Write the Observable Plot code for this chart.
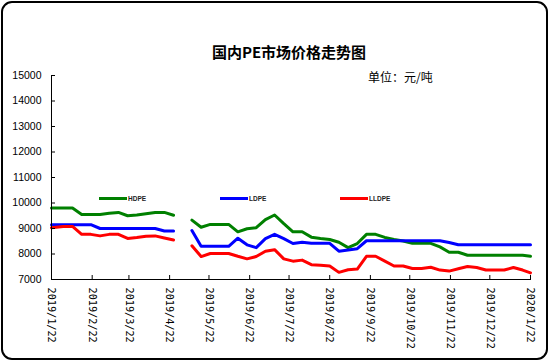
<!DOCTYPE html>
<html>
<head>
<meta charset="utf-8">
<script src="https://cdn.jsdelivr.net/npm/d3@7"></script>
<script src="https://cdn.jsdelivr.net/npm/@observablehq/plot@0.6"></script>
<style>
  html, body { margin: 0; padding: 0; background: #fff; }
  #wrap { position: relative; width: 550px; height: 364px; overflow: hidden; background: #fff; font-family: "Liberation Sans", Arial, sans-serif; }
  #border { position: absolute; left: 1px; top: 1px; width: 547px; height: 359px; box-sizing: border-box; border: 2px solid #000; border-radius: 11px; pointer-events: none; }
  #title { position: absolute; left: 0; width: 578px; top: 42px; text-align: center; font-family: "Noto Sans CJK SC", sans-serif; font-weight: bold; font-size: 15px; line-height: 20px; color: #000; }
  #unit { position: absolute; left: 368px; top: 69px; font-family: "Noto Sans CJK SC", sans-serif; font-size: 12px; line-height: 16px; color: #000; }
  #chart { position: absolute; left: 0; top: 0; }
  .leg { position: absolute; height: 3px; width: 28px; }
  .legt { position: absolute; font-size: 6.5px; font-weight: bold; line-height: 8px; color: #222; }
  .xlab text { font-family: "DejaVu Sans Mono", monospace; font-size: 10.2px; }
</style>
</head>
<body>
<div id="wrap">
  <div id="chart"></div>
  <div id="title">国内PE市场价格走势图</div>
  <div id="unit">单位：元/吨</div>
  <div id="legend"></div>
  <div id="border"></div>
</div>
<script>
// ---- data ----
const dates = [
  "2019-01-22","2019-01-31","2019-02-07","2019-02-14","2019-02-21","2019-02-28","2019-03-07","2019-03-14",
  "2019-03-21","2019-03-28","2019-04-04","2019-04-11","2019-04-18","2019-04-25","2019-05-02","2019-05-09",
  "2019-05-16","2019-05-23","2019-05-30","2019-06-06","2019-06-13","2019-06-20","2019-06-27","2019-07-04",
  "2019-07-11","2019-07-18","2019-07-25","2019-08-01","2019-08-08","2019-08-15","2019-08-22","2019-08-29",
  "2019-09-05","2019-09-12","2019-09-19","2019-09-26","2019-10-03","2019-10-10","2019-10-17","2019-10-24",
  "2019-10-31","2019-11-07","2019-11-14","2019-11-21","2019-11-28","2019-12-05","2019-12-12","2019-12-19",
  "2019-12-26","2020-01-02","2020-01-09","2020-01-16","2020-01-22"
];
const hdpe = [
  9800,9800,9800,9550,9550,9550,9600,9630,9500,9530,9580,9630,9630,9520,null,9330,
  9050,9160,9160,9160,8870,8990,9030,9350,9530,9190,8870,8870,8660,8610,8570,8460,
  8250,8410,8770,8770,8650,8570,8510,8420,8420,8420,8280,8070,8070,7950,7950,7950,
  7950,7950,7950,7950,7910
];
const ldpe = [
  9150,9150,9150,9150,9150,9000,9000,9000,9000,9000,9000,9000,8900,8900,null,8920,
  8300,8300,8300,8300,8620,8360,8250,8600,8770,8600,8410,8460,8420,8420,8420,8110,
  8160,8210,8520,8520,8520,8520,8520,8520,8520,8520,8520,8450,8360,8360,8360,8360,
  8360,8360,8360,8360,8360
];
const lldpe = [
  9030,9080,9080,8770,8770,8710,8770,8770,8610,8650,8700,8710,8630,8550,null,8320,
  7900,8020,8020,8020,7910,7810,7900,8110,8170,7810,7720,7760,7580,7560,7530,7280,
  7380,7410,7910,7910,7720,7530,7530,7430,7430,7480,7370,7330,7420,7510,7470,7370,
  7370,7370,7470,7370,7260
];
const seriesNames = ["HDPE", "LDPE", "LLDPE"];
const seriesColors = ["#008000", "#0000ff", "#ff0000"];
const yTicks = [7000, 8000, 9000, 10000, 11000, 12000, 13000, 14000, 15000];
const xTickDates = [
  "2019-01-22","2019-02-22","2019-03-22","2019-04-22","2019-05-22","2019-06-22","2019-07-22",
  "2019-08-22","2019-09-22","2019-10-22","2019-11-22","2019-12-22","2020-01-22"
];

// ---- table ----
const seriesValues = [hdpe, ldpe, lldpe];
const rows = [];
seriesNames.forEach((name, s) => {
  dates.forEach((d, i) => rows.push({series: name, date: new Date(d), value: seriesValues[s][i]}));
});
const fmt = d => `${d.getUTCFullYear()}/${d.getUTCMonth() + 1}/${d.getUTCDate()}`;

const chart = Plot.plot({
  width: 550,
  height: 364,
  marginLeft: 51,
  marginRight: 20,
  marginTop: 75,
  marginBottom: 85,
  style: {fontFamily: "Liberation Sans, Arial, sans-serif", fontSize: "10.5px", background: "transparent", color: "#000"},
  x: {type: "utc", domain: [new Date(xTickDates[0]), new Date(xTickDates[xTickDates.length - 1])]},
  y: {domain: [7000, 15000]},
  color: {domain: seriesNames, range: seriesColors},
  marks: [
    Plot.line(rows, {x: "date", y: "value", z: "series", stroke: "series", strokeWidth: 3, curve: "linear"}),
    Plot.frame({anchor: "left", stroke: "#000"}),
    Plot.frame({anchor: "bottom", stroke: "#000"}),
    Plot.axisY(yTicks, {tickSize: 4, dx: 4, fill: "none", label: null}),
    Plot.axisY(yTicks, {tickSize: 0, tickPadding: 10, stroke: "none", label: null, tickFormat: d => String(d)}),
    Plot.axisX(xTickDates.map(d => new Date(d)), {tickSize: 4, dy: -4, fill: "none", label: null}),
    Plot.axisX(xTickDates.map(d => new Date(d)), {tickSize: 0, tickPadding: 8, tickRotate: 90, tickFormat: fmt, stroke: "none", label: null, className: "xlab"})
  ]
});
document.getElementById("chart").appendChild(chart);

// ---- legend ----
const legendPos = [[99, 128], [220, 249], [340, 369]];
const leg = document.getElementById("legend");
seriesNames.forEach((name, i) => {
  const sw = document.createElement("div");
  sw.className = "leg";
  sw.style.left = legendPos[i][0] + "px";
  sw.style.top = "197px";
  sw.style.background = seriesColors[i];
  leg.appendChild(sw);
  const t = document.createElement("div");
  t.className = "legt";
  t.style.left = legendPos[i][1] + "px";
  t.style.top = "194.5px";
  t.textContent = name;
  leg.appendChild(t);
});
</script>
</body>
</html>
